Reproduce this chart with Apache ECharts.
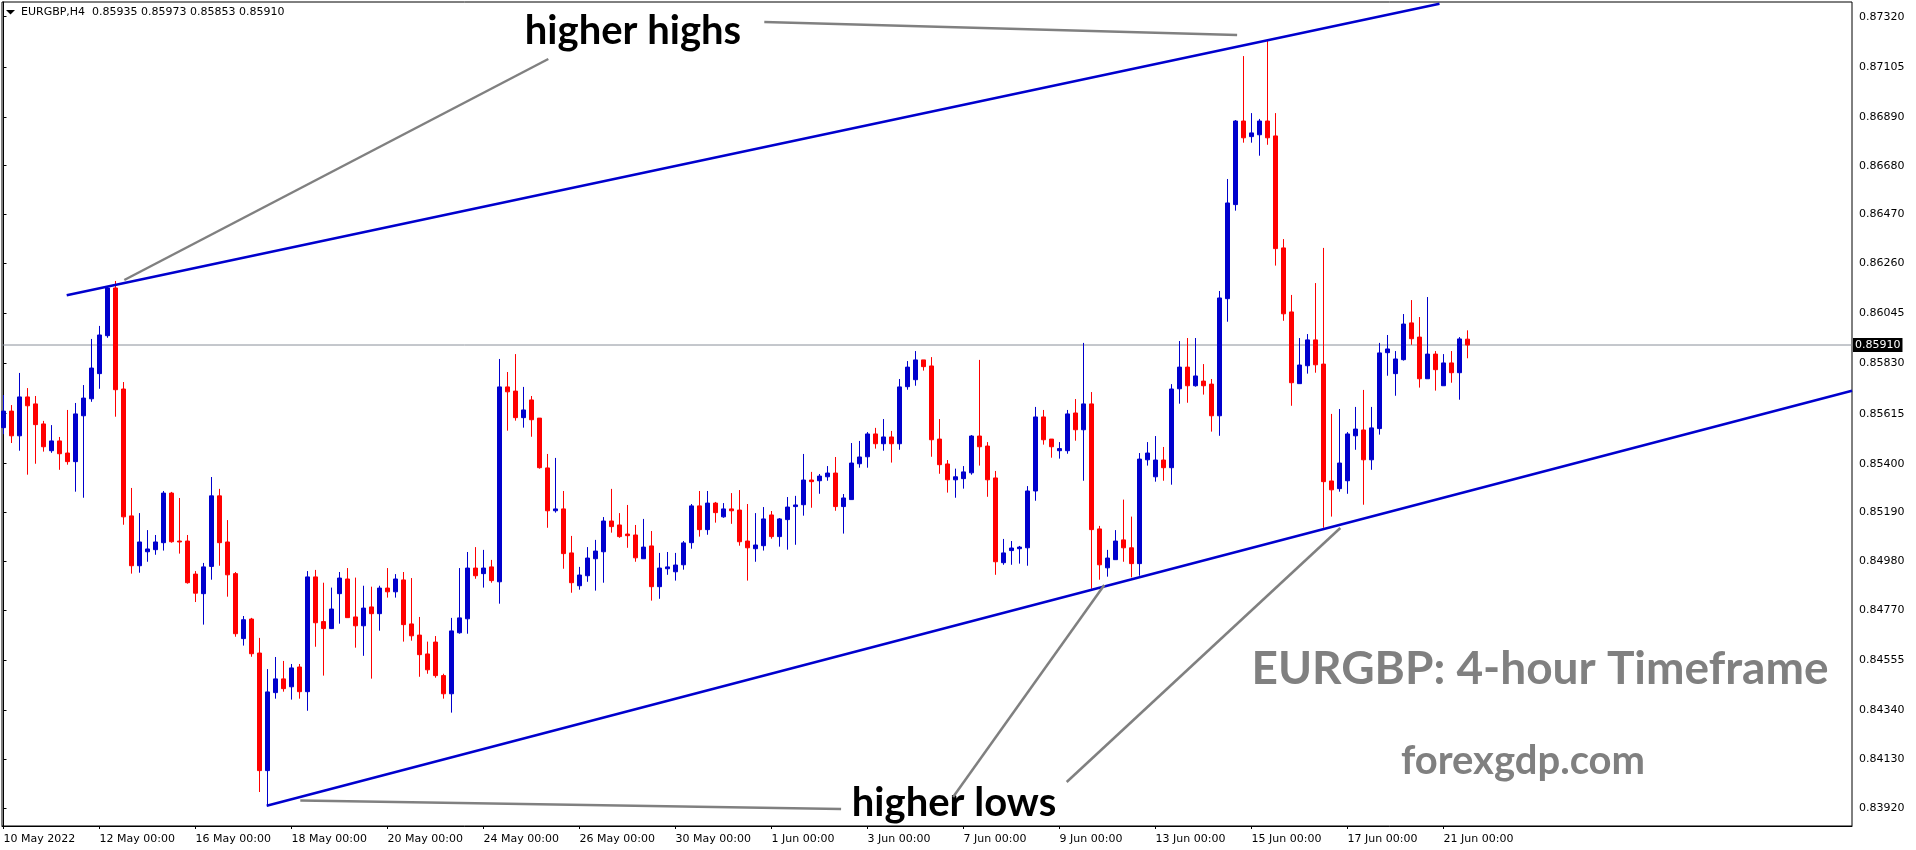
<!DOCTYPE html>
<html><head><meta charset="utf-8">
<script src="https://cdn.jsdelivr.net/npm/echarts@6/dist/echarts.min.js"></script>
<style>html,body{margin:0;padding:0;background:#fff}#c{width:1916px;height:850px}</style>
</head><body><div id="c"></div>
<script>
// ---- data (EURGBP H4) ----
const opens = [
0.85555,0.85626,0.85520,0.85687,0.85657,0.85571,0.85456,0.85498,0.85446,0.85409,0.85606,0.85679,
0.85787,0.85950,0.86155,0.85721,0.85176,0.84962,0.85022,0.85031,0.85061,0.85274,0.85068,0.85068,
0.84926,0.84842,0.84959,0.85262,0.85064,0.84928,0.84649,0.84733,0.84587,0.84082,0.84417,0.84476,
0.84442,0.84527,0.84421,0.84914,0.84722,0.84692,0.84842,0.84905,0.84742,0.84704,0.84785,0.84756,
0.84866,0.84850,0.84901,0.84712,0.84664,0.84583,0.84634,0.84490,0.84412,0.84674,0.84734,0.84952,
0.84928,0.84957,0.84893,0.85730,0.85712,0.85598,0.85674,0.85596,0.85382,0.85198,0.85206,0.85017,
0.84876,0.84919,0.84992,0.85022,0.85154,0.85137,0.85098,0.85094,0.84992,0.85047,0.84872,0.84949,
0.84936,0.84966,0.85061,0.85219,0.85117,0.85231,0.85172,0.85206,0.85201,0.85068,0.85035,0.85048,
0.85180,0.85087,0.85160,0.85216,0.85224,0.85330,0.85327,0.85344,0.85360,0.85216,0.85246,0.85400,
0.85430,0.85528,0.85486,0.85515,0.85486,0.85731,0.85761,0.85846,0.85820,0.85506,0.85399,0.85331,
0.85336,0.85361,0.85519,0.85476,0.85339,0.84975,0.85027,0.85035,0.85039,0.85283,0.85601,0.85506,
0.85456,0.85456,0.85618,0.85546,0.85657,0.85120,0.84953,0.84988,0.85073,0.85039,0.84971,0.85417,
0.85344,0.85416,0.85383,0.85722,0.85815,0.85735,0.85755,0.85742,0.85606,0.86109,0.86513,0.86872,
0.86805,0.86813,0.86872,0.86808,0.86327,0.86052,0.85744,0.85821,0.85932,0.85828,0.85326,0.85293,
0.85327,0.85520,0.85545,0.85417,0.85551,0.85877,0.85787,0.85847,0.86005,0.85944,0.85765,0.85871,
0.85735,0.85833,0.85791,0.85935];
const highs = [
0.85695,0.85652,0.85790,0.85725,0.85691,0.85584,0.85566,0.85515,0.85631,0.85661,0.85738,0.85936,
0.85992,0.86163,0.86185,0.85751,0.85296,0.85188,0.85115,0.85094,0.85283,0.85279,0.85253,0.85094,
0.84939,0.84974,0.85343,0.85292,0.85158,0.84935,0.84746,0.84738,0.84652,0.84518,0.84570,0.84553,
0.84540,0.84540,0.84939,0.84944,0.84889,0.84868,0.84935,0.84952,0.84911,0.84876,0.84872,0.84876,
0.84952,0.84926,0.84935,0.84909,0.84742,0.84636,0.84660,0.84498,0.84738,0.84952,0.85021,0.85042,
0.85030,0.84987,0.85850,0.85794,0.85871,0.85730,0.85691,0.85596,0.85442,0.85425,0.85283,0.85090,
0.84957,0.85042,0.85073,0.85171,0.85292,0.85188,0.85223,0.85137,0.85163,0.85111,0.85017,0.85021,
0.85017,0.85068,0.85227,0.85283,0.85283,0.85236,0.85231,0.85274,0.85287,0.85227,0.85188,0.85214,
0.85197,0.85167,0.85257,0.85262,0.85442,0.85365,0.85356,0.85390,0.85429,0.85270,0.85489,0.85498,
0.85536,0.85554,0.85592,0.85541,0.85764,0.85841,0.85884,0.85846,0.85858,0.85592,0.85416,0.85379,
0.85390,0.85523,0.85846,0.85493,0.85369,0.85077,0.85068,0.85047,0.85304,0.85644,0.85631,0.85506,
0.85493,0.85631,0.85678,0.85919,0.85708,0.85133,0.85030,0.85115,0.85246,0.85173,0.85446,0.85493,
0.85519,0.85472,0.85742,0.85927,0.85940,0.85940,0.85828,0.85764,0.86142,0.86623,0.86876,0.87151,
0.86906,0.86881,0.87220,0.86906,0.86365,0.86125,0.85940,0.85957,0.86176,0.86327,0.85614,0.85635,
0.85536,0.85644,0.85717,0.85644,0.85919,0.85953,0.85884,0.86043,0.86103,0.86030,0.86116,0.85884,
0.85871,0.85884,0.85944,0.85973];
const lows = [
0.85527,0.85489,0.85456,0.85353,0.85400,0.85452,0.85447,0.85374,0.85396,0.85280,0.85254,0.85666,
0.85722,0.85941,0.85602,0.85138,0.84928,0.84932,0.84979,0.85009,0.85027,0.85061,0.85014,0.84885,
0.84806,0.84709,0.84902,0.84962,0.84829,0.84657,0.84619,0.84571,0.83990,0.83930,0.84391,0.84421,
0.84387,0.84391,0.84339,0.84614,0.84490,0.84690,0.84713,0.84739,0.84610,0.84575,0.84477,0.84683,
0.84825,0.84825,0.84636,0.84640,0.84485,0.84498,0.84481,0.84391,0.84331,0.84670,0.84670,0.84906,
0.84868,0.84889,0.84799,0.85542,0.85585,0.85555,0.85516,0.85379,0.85125,0.85190,0.84949,0.84846,
0.84859,0.84893,0.84855,0.84889,0.85104,0.85082,0.85039,0.84979,0.84992,0.84812,0.84820,0.84923,
0.84898,0.84945,0.85035,0.85087,0.85095,0.85147,0.85168,0.85142,0.85048,0.84898,0.84979,0.85027,
0.85078,0.85044,0.85031,0.85052,0.85177,0.85211,0.85271,0.85327,0.85198,0.85100,0.85246,0.85383,
0.85383,0.85465,0.85456,0.85405,0.85460,0.85718,0.85735,0.85800,0.85430,0.85357,0.85276,0.85254,
0.85293,0.85353,0.85392,0.85258,0.84923,0.84966,0.84966,0.84971,0.84962,0.85241,0.85482,0.85426,
0.85422,0.85443,0.85499,0.85327,0.84863,0.84902,0.84915,0.84988,0.84979,0.84912,0.84919,0.85392,
0.85323,0.85327,0.85310,0.85658,0.85662,0.85731,0.85697,0.85538,0.85520,0.86010,0.86487,0.86779,
0.86779,0.86723,0.86770,0.86251,0.86014,0.85649,0.85744,0.85787,0.85791,0.85125,0.85173,0.85280,
0.85271,0.85460,0.85224,0.85374,0.85525,0.85778,0.85692,0.85843,0.85911,0.85727,0.85765,0.85714,
0.85735,0.85748,0.85675,0.85853];
const closes = [
0.85626,0.85520,0.85687,0.85649,0.85568,0.85473,0.85498,0.85443,0.85409,0.85614,0.85682,0.85811,
0.85953,0.86155,0.85718,0.85172,0.84962,0.85064,0.85034,0.85064,0.85274,0.85065,0.85064,0.84889,
0.84844,0.84957,0.85262,0.85061,0.84923,0.84670,0.84730,0.84584,0.84082,0.84420,0.84476,0.84434,
0.84523,0.84421,0.84914,0.84717,0.84692,0.84776,0.84909,0.84739,0.84704,0.84780,0.84756,0.84866,
0.84850,0.84905,0.84709,0.84661,0.84580,0.84515,0.84490,0.84412,0.84682,0.84738,0.84952,0.84919,
0.84952,0.84898,0.85730,0.85709,0.85598,0.85631,0.85589,0.85383,0.85198,0.85206,0.85014,0.84889,
0.84922,0.84995,0.85025,0.85154,0.85130,0.85087,0.85091,0.84996,0.85042,0.84872,0.84952,0.84957,
0.84965,0.85060,0.85219,0.85117,0.85231,0.85190,0.85206,0.85198,0.85065,0.85039,0.85051,0.85163,
0.85087,0.85163,0.85214,0.85223,0.85330,0.85323,0.85347,0.85360,0.85216,0.85253,0.85403,0.85429,
0.85528,0.85486,0.85515,0.85486,0.85730,0.85815,0.85846,0.85817,0.85503,0.85396,0.85331,0.85344,
0.85365,0.85519,0.85473,0.85331,0.84979,0.85017,0.85038,0.85042,0.85283,0.85601,0.85503,0.85473,
0.85465,0.85614,0.85546,0.85657,0.85117,0.84966,0.84995,0.85068,0.85039,0.84971,0.85420,0.85446,
0.85416,0.85383,0.85721,0.85815,0.85735,0.85777,0.85735,0.85606,0.86112,0.86520,0.86872,0.86800,
0.86821,0.86872,0.86800,0.86324,0.86044,0.85748,0.85824,0.85932,0.85825,0.85323,0.85288,0.85403,
0.85528,0.85549,0.85417,0.85554,0.85876,0.85893,0.85850,0.86000,0.85937,0.85765,0.85871,0.85804,
0.85833,0.85791,0.85936,0.85910];
const dateLabels = ['10 May 2022','12 May 00:00','16 May 00:00','18 May 00:00','20 May 00:00','24 May 00:00',
  '26 May 00:00','30 May 00:00','1 Jun 00:00','3 Jun 00:00','7 Jun 00:00','9 Jun 00:00','13 Jun 00:00',
  '15 Jun 00:00','17 Jun 00:00','21 Jun 00:00'];
const barsPerLabel = 12;
const priceTicks = [0.87320,0.87105,0.86890,0.86680,0.86470,0.86260,0.86045,0.85830,0.85615,0.85400,
  0.85190,0.84980,0.84770,0.84555,0.84340,0.84130,0.83920];
const lastPrice = 0.85910;
const headerText = 'EURGBP,H4  0.85935 0.85973 0.85853 0.85910';
// trend channel lines and pointer lines, as [barIndex, price] pairs
const upperTrend = [[7.9, 0.861235], [179.5, 0.873759]];
const lowerTrend = [[32.9, 0.839313], [231.06, 0.857137]];
const pointerLines = [
  [[15.1, 0.861892], [68.1, 0.871384]],
  [[95.1, 0.872973], [154.2, 0.872415]],
  [[37.1, 0.839536], [104.7, 0.839171]],
  [[137.6, 0.848792], [118.7, 0.839687]],
  [[167.1, 0.851240], [132.9, 0.840331]]
];
const xRange = [-0.1875, 231.0625];
const yRange = [0.838441, 0.873832];

// ---- chart ----
const chart = echarts.init(document.getElementById('c'), null, {renderer: 'canvas'});
const candles = opens.map((o, i) => [i, o, closes[i], lows[i], highs[i]]);
const FONT = 'DejaVu Sans';
const series = [{
  type: 'line',
  data: [[xRange[0], lastPrice], [xRange[1], lastPrice]],
  symbol: 'none', silent: true, clip: false, z: 1,
  lineStyle: {color: '#8a909a', width: 1},
  endLabel: {show: true, distance: 1, formatter: () => lastPrice.toFixed(5), backgroundColor: '#000', color: '#fff',
    padding: [2, 2, 1, 2], fontSize: 11, fontFamily: FONT}
}, {
  type: 'candlestick',
  data: candles,
  barWidth: 4, z: 3,
  itemStyle: {color: '#0000CD', color0: '#FF0000', borderColor: '#0000CD', borderColor0: '#FF0000', borderWidth: 1}
}, {
  type: 'line', data: upperTrend, symbol: 'none', silent: true, clip: true, z: 4,
  lineStyle: {color: '#0000CD', width: 2.5}
}, {
  type: 'line', data: lowerTrend, symbol: 'none', silent: true, clip: true, z: 4,
  lineStyle: {color: '#0000CD', width: 2.5}
}];
pointerLines.forEach(pl => series.push({
  type: 'line', data: pl, symbol: 'none', silent: true, clip: false, z: 4,
  lineStyle: {color: '#808080', width: 2.5}
}));

chart.setOption({
  animation: false,
  backgroundColor: '#fff',
  grid: {left: 2, top: 2, width: 1850, height: 824, show: true, borderColor: '#000', borderWidth: 1,
    backgroundColor: 'transparent', containLabel: false, outerBoundsMode: 'none'},
  xAxis: {
    type: 'value', min: xRange[0], max: xRange[1],
    splitLine: {show: false},
    axisLine: {show: true, lineStyle: {color: '#000'}},
    axisTick: {show: true, length: 3, lineStyle: {color: '#000'}, customValues: dateLabels.map((_, k) => k * barsPerLabel)},
    axisLabel: {customValues: dateLabels.map((_, k) => k * barsPerLabel), align: 'left', margin: 8,
      fontSize: 11, fontFamily: FONT, color: '#000',
      formatter: v => dateLabels[Math.round(v / barsPerLabel)]}
  },
  yAxis: {
    type: 'value', position: 'right', min: yRange[0], max: yRange[1], scale: true,
    splitLine: {show: false},
    axisLine: {show: true, lineStyle: {color: '#000'}},
    axisTick: {show: true, length: 3, lineStyle: {color: '#000'}, customValues: priceTicks},
    axisLabel: {customValues: priceTicks, margin: 7, fontSize: 11, fontFamily: FONT, color: '#000',
      formatter: v => v.toFixed(5)}
  },
  series: series,
  graphic: [
    {type: 'polygon', shape: {points: [[6, 10], [15, 10], [10.5, 14.5]]}, style: {fill: '#000'}},
    {type: 'text', left: 21, top: 7, style: {text: headerText, font: '11px "DejaVu Sans"', fill: '#000'}},
    {type: 'text', x: 633, y: 31, style: {text: 'higher highs', font: 'bold 40px Lato', fill: '#000', align: 'center', verticalAlign: 'middle'}},
    {type: 'text', x: 954, y: 803, style: {text: 'higher lows', font: 'bold 40px Lato', fill: '#000', align: 'center', verticalAlign: 'middle'}},
    {type: 'text', x: 1540, y: 669, style: {text: 'EURGBP: 4-hour Timeframe', font: 'bold 46px Lato', fill: '#808080', align: 'center', verticalAlign: 'middle'}},
    {type: 'text', x: 1523, y: 761, style: {text: 'forexgdp.com', font: 'bold 40px Lato', fill: '#808080', align: 'center', verticalAlign: 'middle'}}
  ]
});
</script>
</body></html>
